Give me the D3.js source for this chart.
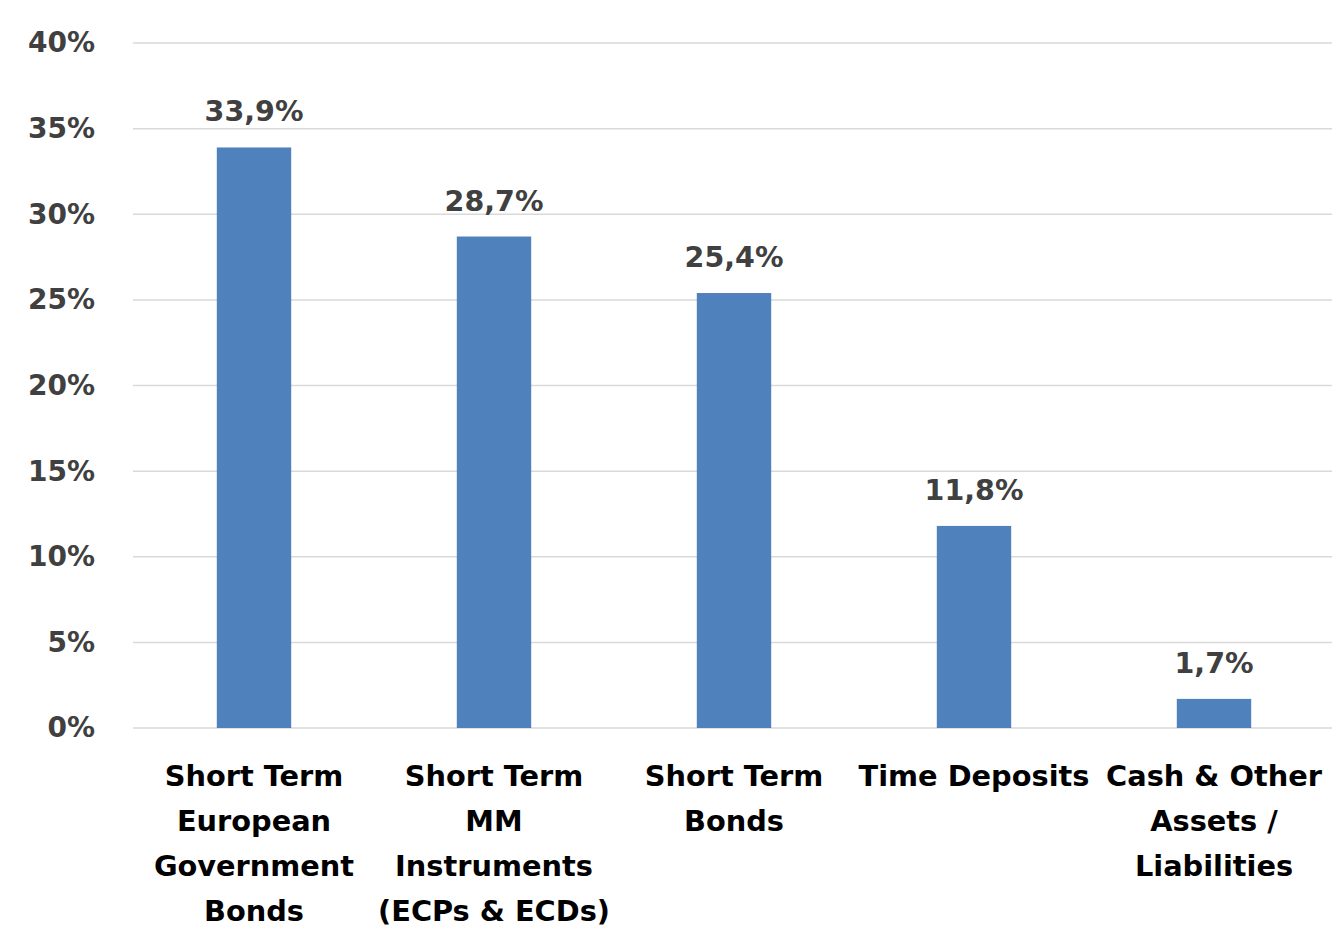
<!DOCTYPE html>
<html>
<head>
<meta charset="utf-8">
<script src="https://cdn.jsdelivr.net/npm/d3@7"></script>
<style>
  html, body { margin: 0; padding: 0; background: #ffffff; }
  svg { display: block; }
  text { font-family: "DejaVu Sans", Verdana, sans-serif; font-weight: bold; }
</style>
</head>
<body>
<svg id="chart" width="1332" height="937"></svg>
<script>
const categories = [
  ["Short Term", "European", "Government", "Bonds"],
  ["Short Term", "MM", "Instruments", "(ECPs & ECDs)"],
  ["Short Term", "Bonds"],
  ["Time Deposits"],
  ["Cash & Other", "Assets /", "Liabilities"]
];
const values = [33.9, 28.7, 25.4, 11.8, 1.7];
const valueLabels = ["33,9%", "28,7%", "25,4%", "11,8%", "1,7%"];
const yTicks = [0, 5, 10, 15, 20, 25, 30, 35, 40];
const yTickLabels = ["0%", "5%", "10%", "15%", "20%", "25%", "30%", "35%", "40%"];

const svg = d3.select("#chart");
const plotLeft = 133, plotRight = 1333, plotTop = 43, plotBottom = 728;

const keys = categories.map((c, i) => i);
const x = d3.scaleBand().domain(keys).range([plotLeft + 1, plotRight + 1]).paddingInner(0.69).paddingOuter(0.345);
const y = d3.scaleLinear().domain([0, 40]).range([plotBottom, plotTop]);

// gridlines
svg.append("g").selectAll("line").data(yTicks).join("line")
  .attr("x1", plotLeft).attr("x2", plotRight)
  .attr("y1", d => y(d)).attr("y2", d => y(d))
  .attr("stroke", "#d9d9d9").attr("stroke-width", 1.5);

// y axis labels
const yAxis = d3.axisLeft(y).tickValues(yTicks).tickFormat((d, i) => yTickLabels[i]).tickSize(0).tickPadding(38);
const gy = svg.append("g").attr("transform", `translate(${plotLeft},0)`).call(yAxis);
gy.select(".domain").remove();
gy.selectAll("text").attr("font-size", 28).attr("fill", "#404040")
  .attr("font-family", "DejaVu Sans").attr("font-weight", "bold");

// bars
svg.append("g").selectAll("rect").data(values).join("rect")
  .attr("x", (d, i) => x(i))
  .attr("width", x.bandwidth())
  .attr("y", d => y(d))
  .attr("height", d => y(0) - y(d))
  .attr("fill", "#4f81bd");

// data labels
svg.append("g").selectAll("text").data(values).join("text")
  .attr("x", (d, i) => x(i) + x.bandwidth() / 2)
  .attr("y", d => y(d) - 26)
  .attr("text-anchor", "middle")
  .attr("font-size", 28.5)
  .attr("fill", "#404040")
  .text((d, i) => valueLabels[i]);

// category labels
const cg = svg.append("g").selectAll("text").data(categories).join("text")
  .attr("text-anchor", "middle")
  .attr("font-size", 28.8)
  .attr("fill", "#000000");
cg.each(function(lines, i) {
  const t = d3.select(this);
  lines.forEach((ln, j) => {
    t.append("tspan")
      .attr("x", x(i) + x.bandwidth() / 2)
      .attr("y", plotBottom + 58 + j * 45)
      .text(ln);
  });
});
</script>
</body>
</html>
